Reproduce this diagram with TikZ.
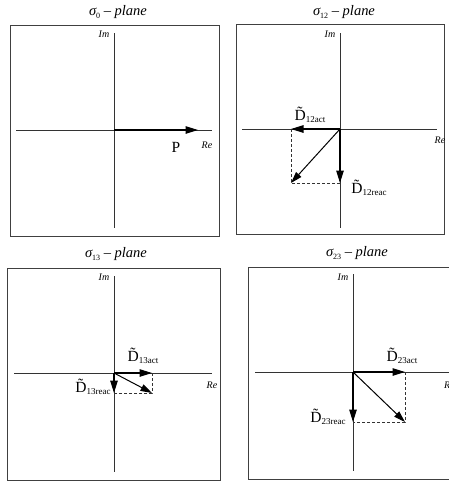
\documentclass[tikz,border=0pt]{standalone}
\usepackage{fontspec}
\setmainfont{Liberation Serif}
\usetikzlibrary{arrows.meta}
\newcommand{\Dlab}[2]{\~{D}\raisebox{-0.3ex}{\fontsize{9}{10}\selectfont #1#2}}
\newcommand{\sig}[1]{{\itshape σ}\raisebox{-0.5ex}{\fontsize{8}{9}\selectfont #1}\ – {\itshape plane}}
\begin{document}
\begin{tikzpicture}[x=1pt,y=-1pt,
  frame/.style={draw=black!75,line width=0.9pt},
  axis/.style={draw=black!80,line width=0.6pt},
  vec/.style={draw=black,line width=1.1pt,-{Triangle[length=12.5pt,width=7.5pt]}},
  dvec/.style={draw=black,line width=1pt,-{Triangle[length=11.5pt,width=7pt]}},
  aux/.style={draw=black!80,line width=0.5pt,densely dashed},
  ttl/.style={font=\fontsize{14.5}{16}\selectfont,inner sep=0pt},
  axl/.style={font=\fontsize{10}{11}\selectfont\itshape,inner sep=0pt},
  vl/.style={font=\fontsize{15.5}{17}\selectfont,inner sep=0pt}]
\useasboundingbox (0,0) rectangle (449,483);
% ---------- panel 1
\node[ttl] (t1) at (118,12) {\sig{0}};
\draw[frame] (10,25) rectangle (219,236);
\coordinate (o1) at (114,130);
\coordinate (v1a) at (114,33); \coordinate (v1b) at (114,228);
\coordinate (h1a) at (16,130); \coordinate (h1b) at (212,130);
\draw[axis] (v1a) -- (v1b);
\draw[axis] (h1a) -- (h1b);
\coordinate (p1) at (198,130);
\draw[vec] (o1) -- (p1);
\node[vl] (P) at (176,147) {P};
\node[axl] (re1) at (207,145) {Re};
\node[axl] (im1) at (104,34) {Im};
% ---------- panel 2
\node[ttl] (t2) at (344,12) {\sig{12}};
\draw[frame] (236,24) rectangle (444,234);
\coordinate (o2) at (340,129);
\coordinate (v2a) at (340,33); \coordinate (v2b) at (340,228);
\coordinate (h2a) at (242,129); \coordinate (h2b) at (437,129);
\draw[axis] (v2a) -- (v2b);
\draw[axis] (h2a) -- (h2b);
\coordinate (a2) at (291,129);
\coordinate (r2) at (340,183);
\coordinate (d2) at (291,183);
\draw[aux] (a2) -- (d2) -- (r2);
\draw[vec] (o2) -- (a2);
\draw[vec] (o2) -- (r2);
\draw[dvec] (o2) -- (d2);
\node[vl] (la2) at (310,115) {\Dlab{12}{act}};
\node[vl] (lr2) at (369,188) {\Dlab{12}{reac}};
\node[axl] (re2) at (440,140) {Re};
\node[axl] (im2) at (330,34) {Im};
% ---------- panel 3
\node[ttl] (t3) at (116,254) {\sig{13}};
\draw[frame] (7,268) rectangle (220,480);
\coordinate (o3) at (114,373);
\coordinate (v3a) at (114,276); \coordinate (v3b) at (114,472);
\coordinate (h3a) at (14,373); \coordinate (h3b) at (212,373);
\draw[axis] (v3a) -- (v3b);
\draw[axis] (h3a) -- (h3b);
\coordinate (a3) at (152,373);
\coordinate (r3) at (114,393);
\coordinate (d3) at (152,393);
\draw[aux] (a3) -- (d3) -- (r3);
\draw[vec] (o3) -- (a3);
\draw[vec] (o3) -- (r3);
\draw[dvec] (o3) -- (d3);
\node[vl] (la3) at (143,356) {\Dlab{13}{act}};
\node[vl] (lr3) at (93,387) {\Dlab{13}{reac}};
\node[axl] (re3) at (212,385) {Re};
\node[axl] (im3) at (104,277) {Im};
% ---------- panel 4
\node[ttl] (t4) at (357,253) {\sig{23}};
\draw[frame] (248,267) rectangle (458,479);
\coordinate (o4) at (353,372);
\coordinate (v4a) at (353,274); \coordinate (v4b) at (353,471);
\coordinate (h4a) at (255,372); \coordinate (h4b) at (460,372);
\draw[axis] (v4a) -- (v4b);
\draw[axis] (h4a) -- (h4b);
\coordinate (a4) at (405,372);
\coordinate (r4) at (353,422);
\coordinate (d4) at (405,422);
\draw[aux] (a4) -- (d4) -- (r4);
\draw[vec] (o4) -- (a4);
\draw[vec] (o4) -- (r4);
\draw[dvec] (o4) -- (d4);
\node[vl] (la4) at (402,356) {\Dlab{23}{act}};
\node[vl] (lr4) at (328,417) {\Dlab{23}{reac}};
\node[axl,anchor=west] (re4) at (444,385) {Re};
\node[axl] (im4) at (343,277) {Im};
\end{tikzpicture}
\end{document}
